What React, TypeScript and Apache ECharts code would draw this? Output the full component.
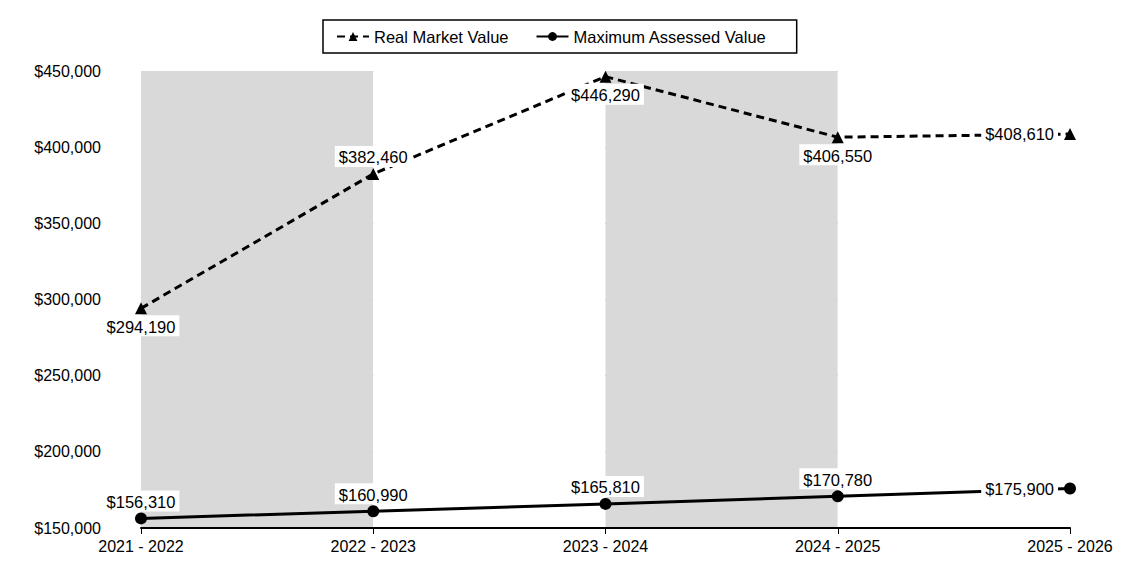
import React, { useEffect, useRef } from "react";
import * as echarts from "echarts";

const categories = ["2021 - 2022", "2022 - 2023", "2023 - 2024", "2024 - 2025", "2025 - 2026"];
const realMarketValue = [294190, 382460, 446290, 406550, 408610];
const maxAssessedValue = [156310, 160990, 165810, 170780, 175900];
const rmvLabelPos = ["bottom", "top", "bottom", "bottom", "left"];
const mavLabelPos = ["top", "top", "top", "top", "left"];

const FONT = "Liberation Sans, Arial, sans-serif";

const fmt = (v: number) => "$" + v.toLocaleString("en-US");

export default function App() {
  const ref = useRef<HTMLDivElement>(null);
  useEffect(() => {
    document.body.style.margin = "0";
    const chart = echarts.init(ref.current!, null, { renderer: "svg" });
    const labelBase = {
      show: true,
      color: "#000",
      fontSize: 16.5,
      fontFamily: FONT,
      backgroundColor: "#fff",
      padding: [3, 4, 1, 4],
      formatter: (p: any) => fmt(p.value),
    };
    const mkLabel = (pos: string) => ({
      ...labelBase,
      position: pos,
      distance: pos === "left" ? 6 : 1,
    });
    chart.setOption({
      animation: false,
      textStyle: { fontFamily: FONT },
      legend: {
        top: 20,
        left: 323,
        borderColor: "#000",
        borderWidth: 1.5,
        padding: [8, 30, 8, 13],
        itemGap: 27,
        itemWidth: 32,
        itemHeight: 11,
        textStyle: { color: "#000", fontSize: 16.5, fontFamily: FONT },
        data: ["Real Market Value", "Maximum Assessed Value"],
      },
      grid: { left: 141, right: 55, top: 71, bottom: 42 },
      xAxis: {
        type: "category",
        data: categories,
        boundaryGap: false,
        axisLine: { lineStyle: { color: "#000", width: 2 } },
        axisTick: { show: true, length: 6, lineStyle: { color: "#000" } },
        axisLabel: { color: "#000", fontSize: 16, fontFamily: FONT, margin: 10 },
        splitLine: { show: false },
        splitArea: { show: true, areaStyle: { color: ["#d9d9d9", "#ffffff"] } },
      },
      yAxis: {
        type: "value",
        min: 150000,
        max: 450000,
        interval: 50000,
        axisLine: { show: false },
        axisTick: { show: false },
        axisLabel: {
          color: "#000",
          fontSize: 16,
          fontFamily: FONT,
          margin: 40,
          formatter: (v: number) => fmt(v),
        },
        splitLine: { show: true, lineStyle: { color: "#8c8c8c", width: 1 } },
      },
      series: [
        {
          name: "Real Market Value",
          type: "line",
          z: 3,
          symbol: "triangle",
          symbolSize: 12,
          lineStyle: { color: "#000", width: 3, type: [8, 5] },
          itemStyle: { color: "#000" },
          data: realMarketValue.map((v, i) => ({
            value: v,
            label: mkLabel(rmvLabelPos[i]),
          })),
        },
        {
          name: "Maximum Assessed Value",
          type: "line",
          z: 3,
          symbol: "circle",
          symbolSize: 12,
          lineStyle: { color: "#000", width: 3 },
          itemStyle: { color: "#000" },
          data: maxAssessedValue.map((v, i) => ({
            value: v,
            label: mkLabel(mavLabelPos[i]),
          })),
        },
      ],
    });
    return () => chart.dispose();
  }, []);
  return <div ref={ref} style={{ width: 1125, height: 570 }} />;
}
